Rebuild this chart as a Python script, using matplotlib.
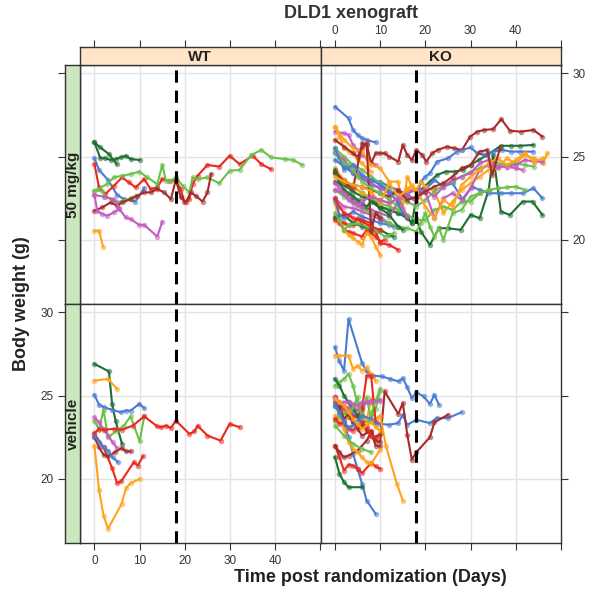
import numpy as np
import matplotlib.pyplot as plt
from matplotlib.colors import to_rgba

plt.rcParams['font.family'] = ['Liberation Sans', 'DejaVu Sans']

BLUE = '#4B7BD1'
DGREEN = '#1F6E32'
LGREEN = '#6CC04A'
RED = '#E8291D'
BROWN = '#A52A2A'
PURPLE = '#C45BC0'
ORANGE = '#FFA31A'

# ---- WT, 50 mg/kg ----
wt_dose_colors = [DGREEN, DGREEN, BLUE, RED, LGREEN, LGREEN, BROWN, PURPLE, PURPLE, ORANGE]
wt_dose_days = [
    [0, 1.3, 2.4, 3.6, 4.7, 5.8, 6.9, 8, 10],
    [0, 1.3, 3.2, 4.9],
    [0, 1, 3, 5, 6.5, 9, 11],
    [0, 1, 2.4, 4.3, 6.1, 7.6, 9.1, 11, 12.4, 13.9, 15, 16.5, 18, 19.1, 19.9, 21, 21.7, 22.8, 25, 27.6, 29.9, 32.1, 35, 36.9, 39],
    [0, 2.8, 4.3, 6.1, 8, 9.9, 11.7, 13.9, 15, 15.8, 16.9, 18, 19.5, 21, 21.7, 22.8, 25, 27.6, 29.9, 32.1, 34.7, 36.9, 39.1, 42.1, 43.9, 46],
    [0, 1.7, 2.4, 5, 6.5, 8, 9.1],
    [0, 1.7, 3.6, 5, 6.1, 8, 9.5, 11, 12.4, 13.9, 15.4, 16.9, 18, 19.1, 20.2, 21.3, 22.4, 23.9, 25, 25.8],
    [0, 2, 4.3, 5.5],
    [0, 0.6, 1.7, 2.8, 4.3, 5.5, 6.9, 8, 9.9, 11, 13.9, 15],
    [0, 1, 1.9],
]
wt_dose_weights = [
    [25.85, 24.9, 24.9, 24.8, 24.85, 24.95, 25.05, 24.85, 24.8],
    [25.85, 25.55, 25.15, 24.55],
    [24.9, 24.2, 23.6, 22.7, 22.45, 22.3, 23.1],
    [24.55, 23.15, 22.75, 23.25, 23.75, 23.45, 23.15, 23.65, 23.05, 23.15, 23.65, 23.55, 23.55, 23.05, 22.25, 22.45, 23.35, 23.85, 24.5, 24.4, 25.05, 24.55, 25.05, 24.55, 24.25],
    [22.95, 23.35, 23.75, 23.85, 23.95, 24.1, 23.75, 23.35, 24.5, 23.55, 23.55, 23.75, 23.25, 22.85, 23.75, 23.65, 23.75, 23.4, 24.15, 24.2, 25.1, 25.4, 24.95, 24.85, 24.8, 24.5],
    [22.95, 22.95, 22.6, 22.25, 22.35, 22.5, 22.65],
    [21.75, 21.95, 22.25, 22.05, 22.25, 22.45, 22.65, 22.85, 22.85, 23.05, 22.85, 22.45, 23.6, 22.55, 22.25, 22.85, 22.65, 22.3, 22.85, 23.95],
    [22.7, 22.6, 22.45, 21.9],
    [22.7, 21.75, 21.55, 21.45, 21.65, 21.85, 21.35, 21.25, 20.9, 20.9, 20.2, 21.1],
    [20.55, 20.55, 19.6],
]

# ---- WT, vehicle ----
wt_veh_colors = [DGREEN, ORANGE, BLUE, LGREEN, PURPLE, RED, RED, BROWN, BLUE, ORANGE]
wt_veh_days = [
    [0, 3.2, 3.9, 4.7, 6.1],
    [0, 3, 5],
    [0, 1, 2.1, 3.9, 5.8, 6.9, 8, 9.9, 11],
    [0, 1, 2, 3, 5, 6.5, 8, 10, 11],
    [0, 1, 2, 3, 4, 5],
    [0, 1, 2, 4.3, 6.1, 8.5, 11, 13.9, 14.7, 15.8, 16.9, 18, 21, 22.1, 22.8, 25, 27.9, 29.9, 32.1],
    [0, 2, 3.9, 5, 5.9, 8.7, 9.6, 10.7],
    [0, 1, 2, 3, 4.5, 6, 7, 8],
    [0, 1, 2, 3, 4, 5.2],
    [0, 1, 2, 3, 6, 7, 8, 10],
]
wt_veh_weights = [
    [26.9, 26.45, 24.5, 23.45, 22.1],
    [25.9, 26.0, 25.4],
    [25.05, 24.45, 24.3, 24.15, 24.0, 24.1, 24.1, 24.5, 24.25],
    [23.5, 22.95, 24.15, 22.5, 22.9, 23.2, 23.75, 22.25, 23.75],
    [23.7, 23.4, 23.0, 22.6, 22.2, 21.85],
    [22.75, 23.0, 22.95, 23.0, 22.95, 23.2, 23.75, 23.15, 23.1, 23.2, 23.05, 23.5, 22.7, 22.85, 23.2, 22.6, 22.3, 23.3, 23.1],
    [22.7, 21.9, 20.65, 19.75, 19.85, 21.0, 20.8, 21.35],
    [22.5, 21.9, 21.45, 21.35, 21.6, 21.85, 21.65, 21.65],
    [22.6, 22.2, 21.9, 21.7, 21.3, 21.0],
    [22.0, 19.35, 17.8, 17.0, 18.5, 19.45, 19.75, 20.0],
]

# ---- KO, 50 mg/kg ----
ko_dose_colors = [BLUE, RED, RED, ORANGE, DGREEN, LGREEN, PURPLE, BLUE, PURPLE, ORANGE,
                  BROWN, DGREEN, DGREEN, BLUE, BLUE, ORANGE, LGREEN, LGREEN, LGREEN, PURPLE,
                  PURPLE, ORANGE, BROWN, BROWN, DGREEN, LGREEN, BLUE, RED, ORANGE, PURPLE]
ko_dose_days = [
    [0, 3, 4, 5, 6, 7, 9],
    [0, 1, 2, 3, 4, 5, 6, 8, 9, 10, 12, 14],
    [0, 1, 2, 3, 4, 6, 7, 8, 9, 10, 11],
    [0, 1, 2, 3, 4, 5, 6, 7, 8, 9, 10],
    [0, 2, 4, 6, 8, 10, 12, 13],
    [0, 1, 2, 3, 5, 7, 9, 11, 13],
    [0, 2, 4, 6, 8, 10, 12],
    [0, 1, 2, 4, 6, 8, 10, 12, 13],
    [0, 2, 3, 4, 5, 6, 7, 8, 9],
    [0, 1, 2, 3, 4, 5, 6, 7, 8],
    [0, 2, 4, 5, 6, 7, 8, 9, 10, 11, 12, 14, 15, 16, 17, 18, 19.3, 20.2, 21.5, 22.7, 24.8, 26.3, 28.1, 29.9, 31.5, 33, 35, 36.8, 38.7, 41.1, 43.9, 45.9],
    [0, 2, 4, 6, 8, 10, 12, 14, 16, 17, 18, 19, 21, 22.6, 24.5, 26.5, 28.3, 30, 31.8, 33.7, 36.7, 38.9, 41, 43.9],
    [0, 2, 4, 6, 8, 10, 12, 14, 16, 17, 18, 19, 21, 23, 25, 27.8, 30, 32, 34, 35, 36.7, 38.7, 41.5, 43.7, 45.9],
    [0, 2, 4, 6, 8, 10, 12, 14, 16, 18, 19, 20, 21, 22.6, 25, 27, 30, 31.5, 33, 35, 37, 39, 41, 43.9],
    [0, 2, 4, 6, 8, 10, 12, 14, 16, 18, 20, 22, 24, 26, 28.3, 30.3, 32, 34, 36.7, 38.9, 41.5, 43.9, 45.9],
    [0, 2, 4, 6, 8, 10, 12, 14, 15, 16, 17, 18, 19, 20, 22, 24, 26, 28, 30, 32, 34, 36, 38, 40, 42, 44, 46, 47],
    [0, 2, 4, 6, 8, 10, 12, 14, 16, 18, 20, 22, 24, 26, 28, 30, 32, 34, 36, 38, 40, 42, 44],
    [0, 2, 4, 6, 8, 10, 12, 14, 16, 18, 20, 22, 24, 26, 28, 30, 32, 34, 36, 38, 40, 42],
    [0, 2, 4, 6, 8, 10, 12, 14, 16, 18, 19, 20, 21, 22, 23, 24, 26, 28, 30, 32, 34],
    [0, 2, 4, 6, 8, 10, 12, 14, 16, 18, 20, 22, 24, 26, 28, 30, 32, 34, 36, 38, 40, 41.5],
    [0, 2, 4, 6, 8, 10, 12, 14, 16, 18, 20, 22, 24, 26, 28, 30, 32, 34, 36, 38, 40, 42, 44, 45.9],
    [0, 2, 4, 6, 8, 10, 12, 14, 16, 18, 20, 22, 24, 26, 28, 30, 32, 34, 36, 38, 40, 42, 44, 46],
    [0, 2, 4, 6, 8, 10, 12, 14, 16, 18, 20, 22, 24, 26, 28, 30, 32, 33.7, 34.8, 36.5],
    [0, 2, 4, 6, 7, 8, 9, 10],
    [0, 1, 2, 3, 4, 5, 6, 7, 8, 10, 12, 14, 15],
    [0, 1, 2, 3, 4, 5, 6, 8, 10, 12, 14],
    [0, 2, 4, 6, 8, 10, 12, 14, 15],
    [0, 1, 2, 3, 4, 6, 8, 10],
    [0, 2, 4, 6, 8, 10, 12, 14, 16, 17, 18],
    [0, 1, 2, 3, 4, 5, 6, 8, 10, 12, 14, 16],
]
ko_dose_weights = [
    [28.0, 27.3, 26.6, 26.3, 26.1, 26.0, 25.85],
    [21.3, 21.2, 21.0, 20.9, 20.9, 21.3, 21.2, 21.0, 20.5, 19.8, 19.7, 19.4],
    [21.2, 21.0, 20.6, 20.5, 20.4, 20.2, 20.6, 20.4, 20.2, 19.9, 20.0],
    [22.2, 21.2, 20.6, 20.3, 20.1, 19.9, 19.7, 20.4, 20.2, 19.6, 19.1],
    [21.4, 21.5, 21.0, 20.8, 20.6, 20.6, 20.3, 20.2],
    [21.6, 21.2, 20.6, 20.9, 21.0, 20.8, 20.6, 20.2, 20.4],
    [22.5, 22.0, 21.9, 21.7, 21.5, 21.2, 21.0],
    [22.4, 21.5, 21.3, 21.7, 21.4, 21.2, 21.0, 20.9, 20.8],
    [26.5, 26.4, 26.3, 25.7, 25.4, 25.1, 24.9, 24.6, 24.5],
    [26.8, 26.2, 25.5, 25.3, 25.2, 24.8, 24.6, 24.3, 24.1],
    [26.0, 25.6, 25.2, 25.0, 25.5, 25.8, 24.6, 25.2, 25.2, 25.2, 25.0, 24.7, 25.7, 25.1, 24.8, 25.4, 25.1, 24.7, 25.2, 25.4, 25.6, 25.5, 25.4, 26.2, 26.5, 26.6, 26.65, 27.25, 26.55, 26.5, 26.6, 26.2],
    [23.5, 23.3, 22.9, 22.6, 22.4, 22.0, 21.8, 21.6, 21.3, 21.0, 22.5, 23.0, 23.5, 23.9, 24.1, 24.1, 24.2, 24.5, 24.8, 25.1, 25.65, 25.65, 25.65, 25.7],
    [24.1, 23.6, 23.2, 22.8, 22.5, 22.0, 21.8, 21.6, 21.4, 21.0, 21.3, 20.5, 19.7, 20.7, 20.7, 20.6, 21.5, 21.3, 23.0, 25.1, 21.7, 21.5, 22.3, 22.3, 21.5],
    [24.8, 24.4, 24.0, 23.7, 23.6, 23.5, 23.2, 23.0, 22.7, 22.4, 23.5, 23.8, 24.0, 24.7, 24.9, 25.3, 25.55, 25.2, 25.1, 25.3, 25.4, 25.3, 25.3, 25.3],
    [25.2, 24.6, 24.0, 23.7, 23.3, 23.1, 22.9, 22.6, 22.8, 23.0, 23.0, 23.6, 23.2, 23.4, 22.4, 23.2, 23.0, 22.8, 22.8, 22.8, 22.8, 23.1, 22.5],
    [26.8, 26.0, 25.5, 25.3, 24.5, 24.3, 23.5, 23.5, 21.9, 23.8, 23.2, 23.0, 23.5, 23.2, 22.9, 21.6, 22.3, 23.0, 23.4, 23.8, 24.2, 24.3, 24.9, 24.6, 25.1, 24.9, 24.6, 25.2],
    [25.5, 25.0, 24.5, 24.2, 23.8, 23.4, 23.0, 22.6, 22.3, 22.0, 22.4, 22.9, 23.3, 23.5, 23.8, 24.1, 24.3, 24.5, 24.6, 24.5, 24.6, 24.5, 24.4],
    [24.0, 23.6, 23.2, 22.8, 22.5, 22.2, 22.0, 21.8, 21.5, 21.2, 21.2, 21.8, 22.0, 21.8, 22.3, 22.3, 22.8, 23.0, 23.1, 23.15, 23.2, 23.0],
    [23.0, 22.6, 22.2, 21.9, 21.6, 21.4, 21.0, 20.8, 20.7, 20.5, 21.0, 21.6, 20.8, 20.2, 20.7, 20.0, 21.6, 21.8, 22.6, 22.8, 23.0],
    [25.3, 24.8, 24.2, 23.8, 23.4, 23.1, 22.8, 22.9, 22.6, 22.3, 23.0, 22.6, 23.2, 23.6, 23.8, 24.0, 24.6, 24.8, 24.4, 24.4, 24.3, 24.2],
    [23.0, 22.8, 22.4, 22.0, 21.8, 21.6, 21.4, 22.3, 22.9, 23.0, 22.9, 21.3, 22.5, 22.8, 22.4, 23.1, 24.2, 24.5, 24.4, 24.4, 24.5, 24.8, 24.7, 24.7],
    [24.3, 23.6, 23.2, 22.8, 22.6, 22.4, 22.2, 22.5, 23.1, 23.0, 22.0, 21.3, 22.4, 22.0, 23.3, 23.8, 24.2, 24.6, 24.9, 24.5, 24.8, 25.2, 24.7, 24.9],
    [24.1, 23.5, 23.3, 23.2, 23.0, 22.8, 22.6, 23.0, 22.4, 22.6, 22.9, 23.2, 23.4, 23.8, 24.3, 24.5, 25.3, 25.4, 23.9, 25.5],
    [24.0, 23.4, 23.1, 25.8, 25.7, 20.6, 21.6, 21.3],
    [24.2, 23.4, 23.0, 22.8, 22.6, 22.4, 22.2, 22.0, 22.3, 21.9, 21.5, 20.8, 20.6],
    [25.3, 24.9, 24.6, 24.5, 24.2, 23.8, 23.5, 23.1, 22.8, 22.4, 22.0],
    [25.5, 24.2, 24.5, 23.9, 23.6, 23.3, 22.9, 22.2, 21.6],
    [22.5, 22.0, 21.6, 21.5, 21.3, 21.1, 20.8, 20.6],
    [23.8, 23.5, 23.3, 23.2, 22.9, 22.2, 23.4, 22.6, 23.0, 23.3, 22.8],
    [23.4, 23.1, 22.8, 22.4, 22.3, 22.0, 22.3, 22.6, 22.4, 22.2, 22.5, 21.4],
]

# ---- KO, vehicle ----
ko_veh_colors = [BLUE, BLUE, BROWN, ORANGE, ORANGE, BLUE, DGREEN, RED, BROWN, ORANGE,
                 LGREEN, LGREEN, PURPLE, RED, DGREEN, LGREEN, PURPLE, BROWN, RED, BLUE, ORANGE]
ko_veh_days = [
    [0, 1, 2, 3, 6, 7, 8.5, 10.4, 12.2, 14.1, 15, 16, 17, 18, 19.6, 21, 22, 23],
    [0, 1, 2, 4, 6, 8, 10, 12, 14, 15, 16, 18, 21, 22.5, 25, 28],
    [0, 1, 2, 3, 4, 5, 6, 8, 9, 10, 11, 14, 15, 16, 17, 18, 21, 22, 25],
    [0, 1, 3, 4, 5, 6, 7, 8, 9],
    [0, 2, 4, 6, 7, 8, 9, 10, 11.3, 13.7, 15],
    [0, 1, 2, 3, 4, 5, 6, 7, 9],
    [0, 1, 2, 3, 6],
    [0, 1, 2, 3, 4, 5, 6, 8, 9, 10],
    [0, 1, 2, 3, 5, 7, 8, 9, 10],
    [0, 1, 2, 3, 4, 5, 6, 7, 8, 10],
    [0, 1, 2, 3, 4, 5, 6, 7, 8, 9, 10],
    [0, 2, 4, 6, 8],
    [0, 1, 2, 3, 4, 5, 6, 7, 8, 10],
    [0, 1, 2, 3, 4, 5, 6, 7, 8, 9],
    [0, 1, 2, 3, 4, 5, 6],
    [0, 1, 2, 3, 4, 5, 6, 7, 8, 9, 10],
    [0, 1, 2, 3, 4, 5, 6, 8, 10],
    [0, 1, 2, 3, 4, 5, 6, 7, 8, 9, 10],
    [0, 1, 2, 3, 4, 5, 6, 7, 8, 9],
    [0, 1, 2, 3, 4, 5, 6, 8, 9],
    [0, 1, 2, 3, 4, 5, 6, 8, 9, 10],
]
ko_veh_weights = [
    [27.9, 27.05, 26.5, 29.6, 26.95, 26.45, 26.2, 26.15, 26.0, 25.85, 26.05, 25.5, 24.85, 25.2, 24.95, 24.5, 25.05, 24.45],
    [24.4, 24.4, 24.3, 23.9, 23.4, 23.5, 23.3, 23.25, 23.35, 23.85, 23.25, 23.55, 23.35, 23.65, 23.65, 24.0],
    [24.9, 24.5, 24.2, 23.7, 23.4, 23.0, 22.6, 22.9, 22.3, 22.2, 25.25, 23.9, 24.55, 22.65, 21.15, 21.6, 22.5, 23.4, 23.85],
    [27.4, 27.4, 27.4, 26.6, 26.8, 26.5, 26.7, 26.3, 25.9],
    [23.6, 23.9, 24.3, 24.0, 23.5, 24.8, 23.6, 23.8, 21.95, 19.7, 18.7],
    [24.4, 23.9, 23.3, 22.5, 21.5, 20.6, 19.7, 18.7, 17.9],
    [21.3, 20.3, 19.8, 19.5, 19.5],
    [22.0, 21.3, 20.5, 20.85, 20.8, 20.6, 20.35, 20.95, 20.75, 20.6],
    [22.0, 21.6, 21.3, 21.4, 21.7, 22.3, 22.8, 22.0, 21.95],
    [23.8, 23.5, 23.0, 22.2, 21.8, 21.6, 21.3, 21.0, 20.9, 21.75],
    [25.6, 25.8, 26.0, 26.3, 25.6, 24.5, 23.8, 24.9, 23.6, 24.2, 25.3],
    [23.2, 22.6, 22.1, 21.8, 21.6],
    [24.8, 24.2, 24.0, 24.3, 24.2, 24.1, 24.3, 24.6, 24.7, 24.75],
    [24.9, 24.6, 24.3, 24.0, 23.7, 23.8, 24.2, 26.2, 26.2, 23.4],
    [26.0, 25.6, 25.0, 24.6, 24.2, 23.8, 23.2],
    [23.5, 23.8, 24.0, 23.7, 24.3, 24.9, 23.6, 23.0, 23.9, 24.7, 25.4],
    [24.9, 24.5, 24.6, 24.6, 24.5, 24.4, 24.6, 24.6, 24.7],
    [24.6, 24.3, 23.6, 23.9, 23.4, 23.1, 23.3, 22.9, 22.6, 22.5, 22.7],
    [23.6, 23.3, 23.4, 23.0, 22.9, 23.2, 23.4, 23.1, 22.6, 22.5],
    [24.5, 24.0, 23.4, 23.1, 23.2, 23.5, 23.8, 23.6, 23.3],
    [24.8, 24.6, 24.4, 24.0, 23.6, 23.3, 23.0, 23.4, 23.1, 22.9],
]

x_ticks = [0, 10, 20, 30, 40, 50]
x_labels = ['0', '10', '20', '30', '40', '']
y_ticks = [20, 25, 30]
treat_day = 18
xlim = (-3.2, 50)
ylim = (16.15, 30.5)

W, H = 596.0, 594.0
fig = plt.figure(figsize=(W / 100, H / 100), dpi=100)


def rect(x0, y0, x1, y1):
    return [x0 / W, 1 - y1 / H, (x1 - x0) / W, (y1 - y0) / H]


FRAME = '#333333'
TXT = '#222222'
STRIP_TOP = '#FFE4C8'
STRIP_LEFT = '#CCE6BE'


def panel(r, colors, days, weights):
    ax = fig.add_axes(r)
    ax.set_xlim(*xlim)
    ax.set_ylim(*ylim)
    for v in [0, 10, 20, 30, 40]:
        ax.axvline(v, color='#E3E3E3', lw=1, zorder=0)
    for v in y_ticks:
        ax.axhline(v, color='#E3E3E3', lw=1, zorder=0)
    for c, d, w in zip(colors, days, weights):
        ax.plot(d, w, color=c, lw=1.5, marker='o', ms=3,
                mfc=to_rgba(c, 0.45), mec=to_rgba(c, 0.45), zorder=2)
    ax.axvline(treat_day, color='black', lw=2.2, dashes=(4, 2.6), zorder=5)
    for s in ax.spines.values():
        s.set_color(FRAME)
        s.set_linewidth(1)
    ax.set_xticks(x_ticks)
    ax.set_yticks(y_ticks)
    ax.tick_params(bottom=False, top=False, left=False, right=False,
                   labelbottom=False, labelleft=False, direction='out',
                   length=5, color=FRAME, labelsize=8.5, labelcolor='#333333')
    return ax


ax_tl = panel(rect(80, 65, 320.5, 304), wt_dose_colors, wt_dose_days, wt_dose_weights)
ax_tr = panel(rect(320.5, 65, 561, 304), ko_dose_colors, ko_dose_days, ko_dose_weights)
ax_bl = panel(rect(80, 304, 320.5, 543), wt_veh_colors, wt_veh_days, wt_veh_weights)
ax_br = panel(rect(320.5, 304, 561, 543), ko_veh_colors, ko_veh_days, ko_veh_weights)

# outer ticks in lattice style
ax_tr.tick_params(right=True, labelright=True)
ax_br.tick_params(right=True)
ax_bl.tick_params(bottom=True, labelbottom=True)
ax_bl.set_xticklabels(x_labels)
ax_br.tick_params(bottom=True)

# strips on top
for r, lab, show in [(rect(80, 47, 320.5, 65), 'WT', False), (rect(320.5, 47, 561, 65), 'KO', True)]:
    s = fig.add_axes(r)
    s.set_facecolor(STRIP_TOP)
    s.set_xlim(*xlim)
    s.set_ylim(0, 1)
    s.set_xticks(x_ticks)
    s.set_xticklabels(x_labels)
    s.set_yticks([])
    s.tick_params(bottom=False, labelbottom=False, top=True, labeltop=show,
                  direction='out', length=5, color=FRAME, labelsize=8.5,
                  labelcolor='#333333', pad=2)
    for sp in s.spines.values():
        sp.set_color(FRAME)
        sp.set_linewidth(1)
    s.text(0.5, 0.45, lab, transform=s.transAxes, ha='center', va='center',
           fontsize=11, fontweight='bold', color=TXT)

# strips on left
for r, lab, show in [(rect(65, 65, 80, 304), '50 mg/kg', False), (rect(65, 304, 80, 543), 'vehicle', True)]:
    s = fig.add_axes(r)
    s.set_facecolor(STRIP_LEFT)
    s.set_ylim(*ylim)
    s.set_xlim(0, 1)
    s.set_yticks(y_ticks)
    s.set_xticks([])
    s.tick_params(left=True, labelleft=show, direction='out', length=5,
                  color=FRAME, labelsize=8.5, labelcolor='#333333')
    for sp in s.spines.values():
        sp.set_color(FRAME)
        sp.set_linewidth(1)
    s.text(0.5, 0.5, lab, transform=s.transAxes, ha='center', va='center',
           rotation=90, fontsize=11, fontweight='bold', color=TXT)

fig.text(351 / W, 1 - 13 / H, 'DLD1 xenograft', ha='center', va='center',
         fontsize=13, fontweight='bold', color='#333333')
fig.text(370 / W, 1 - 577 / H, 'Time post randomization (Days)', ha='center',
         va='center', fontsize=13, fontweight='bold', color=TXT)
fig.text(22 / W, 1 - 304 / H, 'Body weight (g)', ha='center', va='center',
         rotation=90, fontsize=13, fontweight='bold', color=TXT)

fig.savefig('out.png', dpi=100)
